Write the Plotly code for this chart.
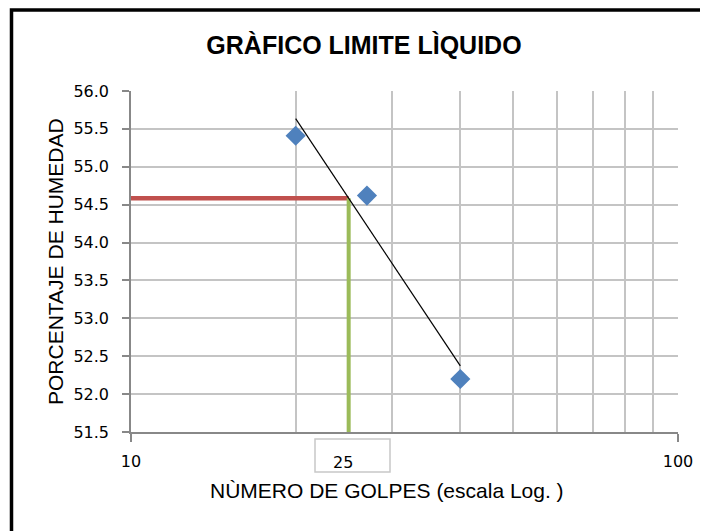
import math
import numpy as np
import plotly.graph_objects as go

# Data
golpes = [20, 27, 40]
humedad = [55.41, 54.62, 52.20]
n_ref = 25
y_ticks = [51.5, 52.0, 52.5, 53.0, 53.5, 54.0, 54.5, 55.0, 55.5, 56.0]
x_grid = [20, 30, 40, 50, 60, 70, 80, 90]
x_labels = [10, 100]

# Logarithmic trendline (Excel-like) fitted from the points
lx = np.log10(golpes)
slope, intercept = np.polyfit(lx, humedad, 1)
trend_x = [min(golpes), max(golpes)]
trend_y = [slope * math.log10(v) + intercept for v in trend_x]
limite = slope * math.log10(n_ref) + intercept

FONT = "Liberation Sans, Arial, sans-serif"
TICKFONT = "DejaVu Sans, Verdana, sans-serif"
W, H = 700, 523
L, T, R, B = 123, 83, 30, 99
PW, PH = W - L - R, H - T - B
OFF = 8  # page body margin


def px(x):  # page x pixel -> paper
    return (x - OFF - L) / PW


def py(y):  # page y pixel -> paper
    return (H - B + OFF - y) / PH


fig = go.Figure()
fig.add_trace(go.Scatter(x=[10, n_ref], y=[limite, limite], mode="lines",
                         line=dict(color="#C0504D", width=4.5), hoverinfo="skip"))
fig.add_trace(go.Scatter(x=[n_ref, n_ref], y=[y_ticks[0], limite], mode="lines",
                         line=dict(color="#9BBB59", width=4), hoverinfo="skip"))
fig.add_trace(go.Scatter(x=trend_x, y=trend_y, mode="lines",
                         line=dict(color="black", width=1.2), hoverinfo="skip"))
fig.add_trace(go.Scatter(x=golpes, y=humedad, mode="markers",
                         marker=dict(symbol="diamond", size=15.5, color="#4F81BD")))

fig.update_layout(
    width=W, height=H,
    margin=dict(l=L, r=R, t=T, b=B),
    paper_bgcolor="white", plot_bgcolor="white",
    showlegend=False,
    font=dict(family=FONT, color="black"),
    title=dict(text="<b>GRÀFICO LIMITE LÌQUIDO</b>", x=(364 - OFF) / W, xanchor="center",
               y=1 - (45 - OFF) / H, yanchor="middle", font=dict(size=25, color="black")),
    xaxis=dict(type="log", range=[1, 2], tickvals=x_labels, ticktext=[str(v) for v in x_labels],
               ticks="outside", ticklen=8, tickcolor="#888888", tickwidth=1.5,
               ticklabelstandoff=6,
               showgrid=True, gridcolor="#C4C4C4", gridwidth=1.5,
               minor=dict(tickvals=x_grid, showgrid=True, gridcolor="#C4C4C4", gridwidth=1.5, ticks=""),
               showline=True, linecolor="#888888", linewidth=1.5,
               tickfont=dict(size=16, family=TICKFONT), zeroline=False),
    yaxis=dict(range=[51.5, 56.0], tickvals=y_ticks, tickformat=".1f",
               ticks="outside", ticklen=7, tickcolor="#888888", tickwidth=1.5,
               ticklabelstandoff=10,
               showgrid=True, gridcolor="#C4C4C4", gridwidth=1.5,
               showline=True, linecolor="#888888", linewidth=1.5,
               tickfont=dict(size=16, family=TICKFONT), zeroline=False),
)

# axis titles
fig.add_annotation(x=px(55), y=py(262), xref="paper", yref="paper",
                   text="PORCENTAJE DE HUMEDAD", textangle=-90, showarrow=False,
                   xanchor="center", yanchor="middle", font=dict(size=21, family=FONT))
fig.add_annotation(x=px(387), y=py(490), xref="paper", yref="paper",
                   text="NÙMERO DE GOLPES (escala Log. )", showarrow=False,
                   xanchor="center", yanchor="middle", font=dict(size=21, family=FONT))

# "25" label box
fig.add_shape(type="rect", xref="paper", yref="paper",
              x0=px(315), x1=px(390), y0=py(472), y1=py(439),
              line=dict(color="#C8C8C8", width=1.5), fillcolor="white")
fig.add_annotation(x=px(343), y=py(462), xref="paper", yref="paper",
                   text=str(n_ref), showarrow=False, xanchor="center", yanchor="middle",
                   font=dict(size=16, family=TICKFONT))

# outer black frame
fig.add_shape(type="rect", xref="paper", yref="paper",
              x0=px(11.5), x1=px(730), y0=py(560), y1=py(10),
              line=dict(color="black", width=3.5))

fig.write_html("out.html")
